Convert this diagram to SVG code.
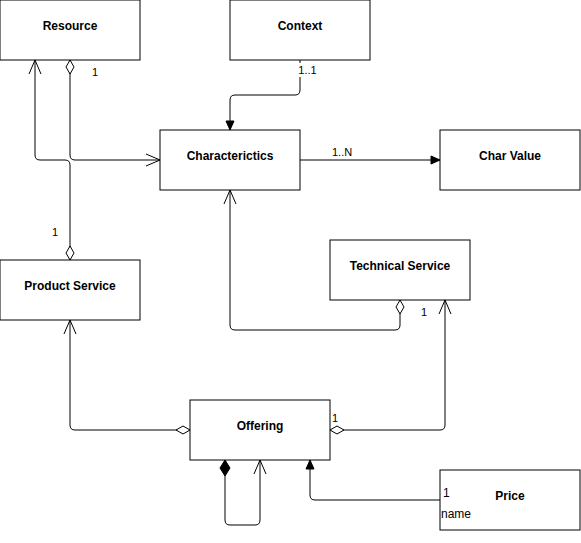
<svg xmlns="http://www.w3.org/2000/svg" width="581" height="543" viewBox="0 0 581 543">
<style>
.node rect{fill:#fff;stroke:#000;stroke-width:1}
.node text{font-family:"Liberation Sans",Arial,sans-serif;font-size:12px;font-weight:bold;text-anchor:middle;fill:#000}
.edges path{fill:none;stroke:#000;stroke-width:1}
.lbl{font-family:"Liberation Sans",Arial,sans-serif;font-size:11px;fill:#000}
.small{font-size:10px}
</style>
<defs>
<marker id="open" markerUnits="userSpaceOnUse" orient="auto" overflow="visible" refX="0" refY="0" markerWidth="20" markerHeight="20"><path d="M-14,-6 L0,0 L-14,6" fill="none" stroke="#000" stroke-width="1"/></marker>
<marker id="block" markerUnits="userSpaceOnUse" orient="auto" overflow="visible" refX="0" refY="0" markerWidth="20" markerHeight="20"><path d="M-9,-4 L0,0 L-9,4 Z" fill="#000" stroke="#000" stroke-width="1"/></marker>
<marker id="dia" markerUnits="userSpaceOnUse" orient="auto" overflow="visible" refX="0" refY="0" markerWidth="20" markerHeight="20"><path d="M0,0 L7,-4 L14,0 L7,4 Z" fill="#fff" stroke="#000" stroke-width="1"/></marker>
<marker id="fdia" markerUnits="userSpaceOnUse" orient="auto" overflow="visible" refX="0" refY="0" markerWidth="20" markerHeight="20"><path d="M0,0 L8,-5 L16,0 L8,5 Z" fill="#000" stroke="#000" stroke-width="1"/></marker>
</defs>
<g class="edges" id="connectors">
<path d="M70,60 L70,155 Q70,160 75,160 L160,160" marker-start="url(#dia)" marker-end="url(#open)"/>
<path d="M70,260 L70,165 Q70,160 65,160 L40,160 Q35,160 35,155 L35,60" marker-start="url(#dia)" marker-end="url(#open)"/>
<path d="M300,60 L300,90 Q300,95 295,95 L235,95 Q230,95 230,100 L230,130" marker-end="url(#block)"/>
<path d="M300,160 L440,160" marker-end="url(#block)"/>
<path d="M400,300 L400,325 Q400,330 395,330 L235,330 Q230,330 230,325 L230,190" marker-start="url(#dia)" marker-end="url(#open)"/>
<path d="M190,430 L75,430 Q70,430 70,425 L70,320" marker-start="url(#dia)" marker-end="url(#open)"/>
<path d="M330,430 L440,430 Q445,430 445,425 L445,300" marker-start="url(#dia)" marker-end="url(#open)"/>
<path d="M225,460 L225,520 Q225,525 230,525 L255,525 Q260,525 260,520 L260,460" marker-start="url(#fdia)" marker-end="url(#open)"/>
<path d="M440,500 L315,500 Q310,500 310,495 L310,460" marker-end="url(#block)"/>
<rect x="298" y="63" width="19" height="14" fill="#fff" stroke="none"/>
<text class="lbl" x="307.5" y="74" text-anchor="middle">1..1</text>
<text class="lbl" x="92" y="76">1</text>
<text class="lbl" x="52" y="236">1</text>
<text class="lbl" x="332" y="156">1..N</text>
<text class="lbl" x="421" y="316">1</text>
<text class="lbl" x="191" y="429">1</text>
<text class="lbl" x="332" y="422">1</text>
<text class="lbl" x="229" y="456">1</text>
</g>
<g class="node" id="resource"><rect x="0" y="0" width="140" height="60"/><text x="70" y="30">Resource</text></g>
<g class="node" id="context"><rect x="230" y="0" width="140" height="60"/><text x="300" y="30">Context</text></g>
<g class="node" id="characterictics"><rect x="160" y="130" width="140" height="60"/><text x="230" y="160">Characterictics</text></g>
<g class="node" id="charvalue"><rect x="440" y="130" width="140" height="60"/><text x="510" y="160">Char Value</text></g>
<g class="node" id="technical"><rect x="330" y="240" width="140" height="60"/><text x="400" y="270">Technical Service</text></g>
<g class="node" id="product"><rect x="0" y="260" width="140" height="60"/><text x="70" y="290">Product Service</text></g>
<g class="node" id="offering"><rect x="190" y="400" width="140" height="60"/><text x="260" y="430">Offering</text></g>
<g class="node" id="price"><rect x="440" y="470" width="140" height="60"/><text x="510" y="500">Price</text>
<text class="lbl small" x="443" y="497" style="font-weight:normal;text-anchor:start">1</text>
<text class="lbl small" x="441" y="518" style="font-weight:normal;text-anchor:start">name</text></g>
</svg>
